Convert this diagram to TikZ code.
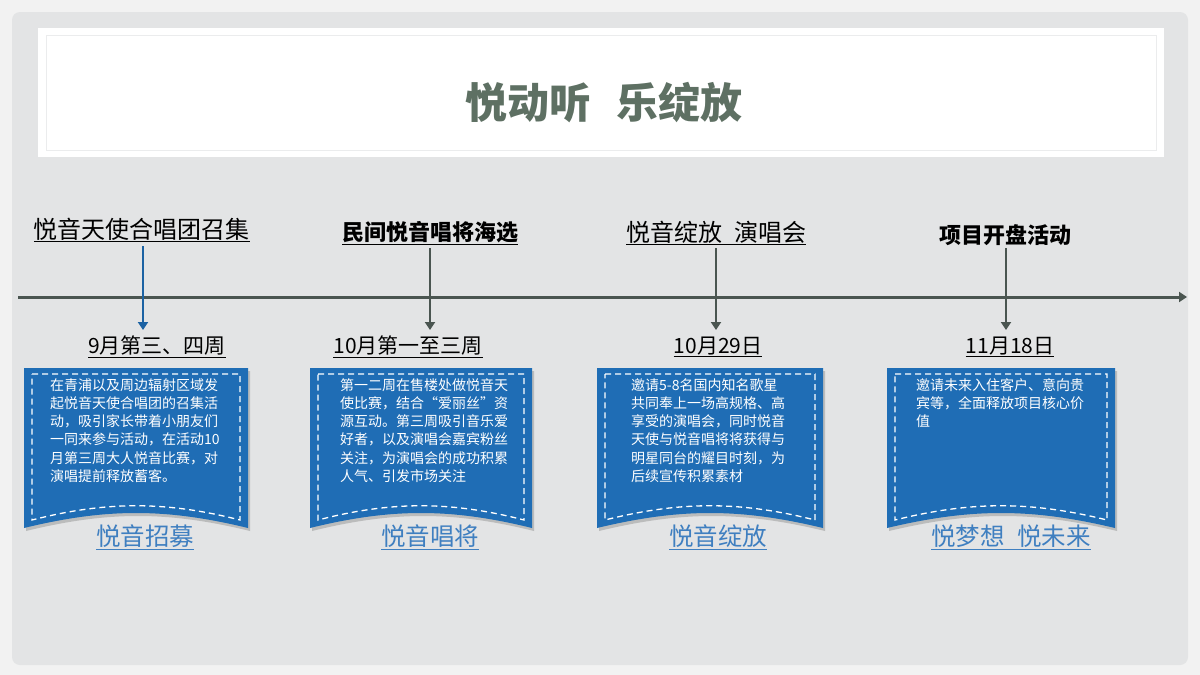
\documentclass[tikz,border=0pt]{standalone}
\usepackage{fontspec}
\setmainfont{Noto Sans CJK SC}
\usetikzlibrary{shadows,arrows.meta}
\definecolor{bg}{HTML}{F2F2F2}
\definecolor{panel}{HTML}{E3E4E5}
\definecolor{ttl}{HTML}{5E7063}
\definecolor{axis}{HTML}{4A5550}
\definecolor{boxb}{HTML}{1F6DB5}
\definecolor{lnk}{HTML}{3F7FC0}
\tikzset{x=1pt,y=-1pt,
 hdr/.style={font=\fontsize{24}{28}\selectfont,text=black},
 dt/.style={font=\fontsize{21}{24}\selectfont,text=black},
 btxt/.style={font=\fontsize{14}{18.3}\selectfont,text=white,align=left,anchor=north west,inner sep=0pt},
 lk/.style={font=\fontsize{24.5}{28}\selectfont,text=lnk},
 ar/.style={axis,line width=2pt,-{Triangle[length=8pt,width=10pt]}}}
\newcommand{\tbox}[2]{% x1 x2
 \fill[boxb,drop shadow={shadow xshift=2pt,shadow yshift=-3pt,opacity=.4}] (#1,368)--(#2,368)--(#2,528) .. controls ({(#1+#2)/2+30},508) and ({(#1+#2)/2-30},508) .. (#1,528)--cycle;
 \draw[white,line width=1.3pt,dash pattern=on 6pt off 4pt] ({#1+8},374)--({#2-8},374)--({#2-8},520) .. controls ({(#1+#2)/2+30},501) and ({(#1+#2)/2-30},501) .. ({#1+8},520)--cycle;
}
\begin{document}
\begin{tikzpicture}
\useasboundingbox (0,0) rectangle (1200,675);
\fill[bg] (0,0) rectangle (1200,675);
\fill[panel,rounded corners=8pt] (12,12) rectangle (1188,665);
\fill[white] (38,28) rectangle (1164,157);
\draw[panel!70,line width=1pt] (46,35) rectangle (1156,150);
\node[font=\fontsize{42}{46}\selectfont\bfseries,text=ttl] (title) at (604,103) {悦动听\hspace{0.6em}乐绽放};
\coordinate (L) at (18,297); \coordinate (R) at (1187,297);
\draw[ar,line width=3pt] (L)--(R);
\node[hdr] (h1) at (142,230) {\underline{悦音天使合唱团召集}};
\node[hdr,font=\fontsize{22}{26}\selectfont\bfseries] (h2) at (430,233) {\underline{民间悦音唱将海选}};
\node[hdr] (h3) at (716,233) {\underline{悦音绽放\hspace{0.5em}演唱会}};
\node[hdr,font=\fontsize{22}{26}\selectfont\bfseries] (h4) at (1005,235) {项目开盘活动};
\node[dt] (d1) at (157,347) {\underline{9月第三、四周}};
\node[dt] (d2) at (408,347) {\underline{10月第一至三周}};
\node[dt] (d3) at (718,347) {\underline{10月29日}};
\node[dt] (d4) at (1010,347) {\underline{11月18日}};
\draw[line width=2pt,boxb!90!black,-{Triangle[length=8pt,width=10pt]}] (143,246)--(143,330);
\draw[ar] (430,248)--(430,330);
\draw[ar] (716,248)--(716,330);
\draw[ar] (1006,248)--(1006,330);
\tbox{24}{248}
\tbox{310}{532}
\tbox{597}{823}
\tbox{887}{1115}
\node[btxt] (t1) at (50,378) {在青浦以及周边辐射区域发\\起悦音天使合唱团的召集活\\动，吸引家长带着小朋友们\\一同来参与活动，在活动10\\月第三周大人悦音比赛，对\\演唱提前释放蓄客。};
\node[btxt] (t2) at (340,378) {第一二周在售楼处做悦音天\\使比赛，结合“爱丽丝”资\\源互动。第三周吸引音乐爱\\好者，以及演唱会嘉宾粉丝\\关注，为演唱会的成功积累\\人气、引发市场关注};
\node[btxt] (t3) at (631,378) {邀请5-8名国内知名歌星\\共同奉上一场高规格、高\\享受的演唱会，同时悦音\\天使与悦音唱将将获得与\\明星同台的耀目时刻，为\\后续宣传积累素材};
\node[btxt] (t4) at (916,378) {邀请未来入住客户、意向贵\\宾等，全面释放项目核心价\\值};
\node[lk] (l1) at (145,537) {\underline{悦音招募}};
\node[lk] (l2) at (430,537) {\underline{悦音唱将}};
\node[lk] (l3) at (718,537) {\underline{悦音绽放}};
\node[lk] (l4) at (1011,537) {\underline{悦梦想\hspace{0.5em}悦未来}};
\end{tikzpicture}
\end{document}
